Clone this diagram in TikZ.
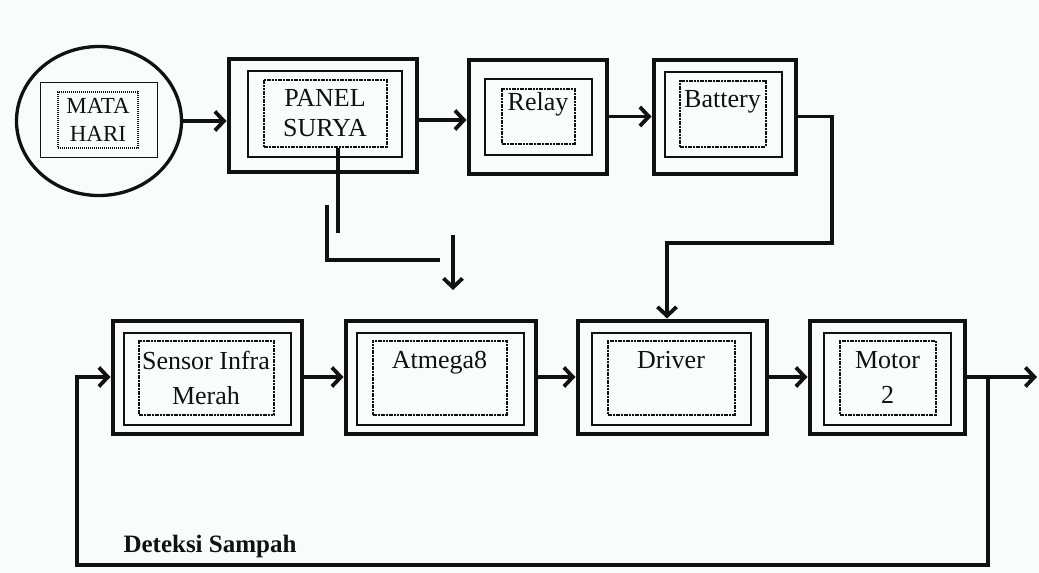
\documentclass[tikz,border=0pt]{standalone}
\usepackage{fontspec}
\setmainfont{Liberation Serif}
\usetikzlibrary{arrows.meta,shapes.geometric}
\definecolor{tpsInk}{HTML}{111111}
\definecolor{tpsPaper}{HTML}{F9FCFD}
\tikzset{
  tps outer/.style={draw=tpsInk, line width=4pt, inner sep=0pt},
  tps mid/.style={draw=tpsInk, line width=2.8pt, inner sep=0pt},
  tps inner/.style={draw=tpsInk, line width=2pt, dash pattern=on 2pt off 0.7pt, inner sep=0pt, align=center, text=tpsInk, font=\fontsize{26}{30}\selectfont},
  tps low/.style={font=\fontsize{26}{35}\selectfont},
  tps sun/.style={ellipse, draw=tpsInk, line width=3.3pt, inner sep=0pt},
  tps line/.style={draw=tpsInk, line width=3.8pt},
  tps link/.style={tps line, -{Straight Barb[length=9pt,width=19pt]}},
  tps label/.style={font=\fontsize{25}{30}\selectfont\bfseries, text=tpsInk},
}

\begin{document}
\begin{tikzpicture}[x=1pt,y=-1pt]
  \fill[tpsPaper] (0,0) rectangle (1039,573);
  \useasboundingbox (0,0) rectangle (1039,573);

  \node[tps sun,minimum width=165pt,minimum height=149pt] (sun) at (99,121) {};
  \node[draw=tpsInk,line width=1.4pt,inner sep=0pt,minimum width=117pt,minimum height=75pt] (sun box) at (99,120) {};
  \node[tps inner,line width=1.4pt,dash pattern=on 1.2pt off 0.8pt,minimum width=80pt,minimum height=56pt,font=\fontsize{23}{28}\selectfont] (sun txt) at (98,120) {MATA\\HARI};

  \node[tps outer,minimum width=188pt,minimum height=113pt] (panel out) at (322.5,115) {};
  \node[tps mid,minimum width=154pt,minimum height=86pt] (panel mid) at (325,114) {};
  \node[tps inner,minimum width=123pt,minimum height=67pt] (panel) at (325,113) {PANEL\\SURYA};

  \node[tps outer,minimum width=138pt,minimum height=114pt] (relay out) at (537.5,116.5) {};
  \node[tps mid,minimum width=107pt,minimum height=76pt] (relay mid) at (538.5,117) {};
  \node[tps inner,minimum width=73pt,minimum height=55pt] (relay) at (538,116) {Relay\\~};

  \node[tps outer,minimum width=142pt,minimum height=114pt] (battery out) at (724.5,116.5) {};
  \node[tps mid,minimum width=117pt,minimum height=85pt] (battery mid) at (723.5,114.5) {};
  \node[tps inner,minimum width=86pt,minimum height=66pt] (battery) at (722.5,113.5) {Battery\\~};

  \node[tps outer,minimum width=189pt,minimum height=113pt] (sensor out) at (207,377) {};
  \node[tps mid,minimum width=167pt,minimum height=92pt] (sensor mid) at (207.5,379) {};
  \node[tps inner,tps low,minimum width=135pt,minimum height=74pt] (sensor) at (206,377.5) {Sensor Infra\\Merah};

  \node[tps outer,minimum width=190pt,minimum height=113pt] (atmega out) at (440.5,377) {};
  \node[tps mid,minimum width=167pt,minimum height=92pt] (atmega mid) at (440.5,379) {};
  \node[tps inner,tps low,minimum width=134pt,minimum height=74pt] (atmega) at (439.5,377.5) {Atmega8\\~};

  \node[tps outer,minimum width=189pt,minimum height=113pt] (driver out) at (672,377) {};
  \node[tps mid,minimum width=159pt,minimum height=92pt] (driver mid) at (671.5,379) {};
  \node[tps inner,tps low,minimum width=127pt,minimum height=74pt] (driver) at (671,377.5) {Driver\\~};

  \node[tps outer,minimum width=155pt,minimum height=113pt] (motor out) at (887,377) {};
  \node[tps mid,minimum width=127pt,minimum height=92pt] (motor mid) at (887.5,379) {};
  \node[tps inner,tps low,minimum width=96pt,minimum height=74pt] (motor) at (887.5,377.5) {Motor\\2};

  \node[tps label,anchor=west] (deteksi) at (120,546) {Deteksi Sampah};

  \coordinate (panel tap) at (338,233);
  \coordinate (split top) at (327,205);
  \coordinate (split end) at (440,260);
  \coordinate (drop top) at (453,235);
  \coordinate (drop tip) at (453,290);
  \coordinate (bat turn) at (832,243);
  \coordinate (fb split) at (988,377);
  \coordinate (fb low) at (77,565);
  \coordinate (out end) at (1037,377);

  \draw[tps link] (sun.east) -- (sun.east -| panel out.west);
  \draw[tps link] ([yshift=-5pt]panel out.east) -- ([yshift=-5pt]panel out.east -| relay out.west);
  \draw[tps link] (relay out.east) -- (relay out.east -| battery out.west);
  \draw[tps line] (panel.south -| panel tap) -- (panel tap);
  \draw[tps line] (split top) |- (split end);
  \draw[tps link] (drop top) -- (drop tip);
  \draw[tps link] (battery out.east) -| (bat turn) -| ([xshift=-5pt]driver out.north);
  \draw[tps link] (sensor out.east) -- (atmega out.west);
  \draw[tps link] (atmega out.east) -- (driver out.west);
  \draw[tps link] (driver out.east) -- (motor out.west);
  \draw[tps link] (motor out.east) -- (out end);
  \draw[tps link] (fb split) |- (fb low) |- (sensor out.west);
\end{tikzpicture}
\end{document}
